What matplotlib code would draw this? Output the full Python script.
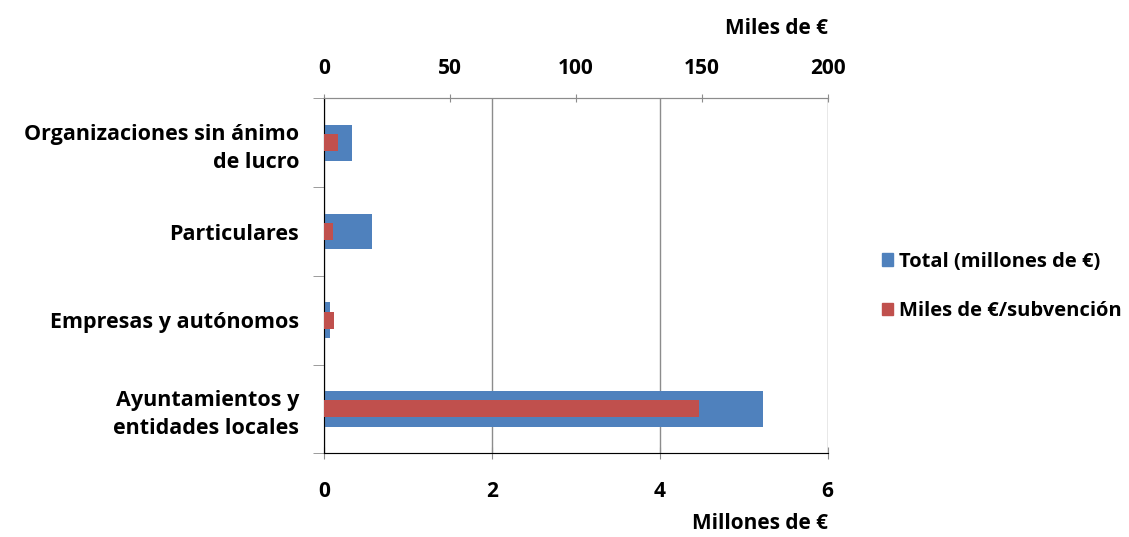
import matplotlib.pyplot as plt
from matplotlib.patches import Patch

plt.rcParams['font.family'] = ['Open Sans', 'DejaVu Sans']
plt.rcParams['font.weight'] = 'bold'

# Datos
categorias = ['Ayuntamientos y\nentidades locales', 'Empresas y autónomos',
              'Particulares', 'Organizaciones sin ánimo\nde lucro']
total_millones = [5.23, 0.07, 0.57, 0.33]
miles_por_subvencion = [149, 4, 3.6, 5.6]

azul = '#4F81BD'
rojo = '#C0504D'
gris = '#8C8C8C'
fs = 15

fig = plt.figure(figsize=(11.29, 5.37), dpi=100)
ax = fig.add_axes([0.287, 0.156, 0.446, 0.6606])
y = range(len(categorias))

# Barras azules (eje inferior, millones)
ax.barh(y, total_millones, height=0.4, color=azul, zorder=2)
ax.set_xlim(0, 6)
ax.set_ylim(-0.5, len(categorias) - 0.5)
ax.set_xticks([0, 2, 4, 6])
ax.set_yticks(list(y))
ax.set_yticklabels(categorias, fontsize=15.5, fontweight='bold', linespacing=1.4)
ax.set_yticks([i + 0.5 for i in range(-1, len(categorias))], minor=True)
ax.tick_params(axis='y', which='major', length=0, pad=18)
ax.tick_params(axis='y', which='minor', length=8, direction='out', color=gris)
ax.tick_params(axis='x', labelsize=fs, length=8, direction='inout', color=gris, pad=16)
ax.grid(axis='x', color=gris, linewidth=1, zorder=0)
ax.spines['right'].set_visible(False)
for s in ['left', 'bottom', 'top']:
    ax.spines[s].set_color(gris)
ax.set_xlabel('Millones de €', fontsize=fs, fontweight='bold', loc='right', labelpad=8)

# Barras rojas (eje superior, miles)
ax2 = ax.twiny()
ax2.barh(y, miles_por_subvencion, height=0.19, color=rojo, zorder=3)
ax2.set_xlim(0, 200)
ax2.set_xticks([0, 50, 100, 150, 200])
ax2.tick_params(axis='x', labelsize=fs, length=6, direction='inout', color=gris, pad=11)
ax2.spines['right'].set_visible(False)
ax2.spines['top'].set_color(gris)
ax2.set_xlabel('Miles de €', fontsize=fs, fontweight='bold', loc='right', labelpad=17)
for lbl in ax.get_xticklabels() + ax2.get_xticklabels():
    lbl.set_fontweight('bold')

# Leyenda
handles = [Patch(color=azul, label='Total (millones de €)'),
           Patch(color=rojo, label='Miles de €/subvención')]
fig.legend(handles=handles, loc='center left', bbox_to_anchor=(0.765, 0.467),
           frameon=False, handlelength=0.55, handleheight=0.55,
           handletextpad=0.3, labelspacing=1.45, prop={'weight': 'bold', 'size': 14.5})

fig.savefig('out.png', dpi=100)
